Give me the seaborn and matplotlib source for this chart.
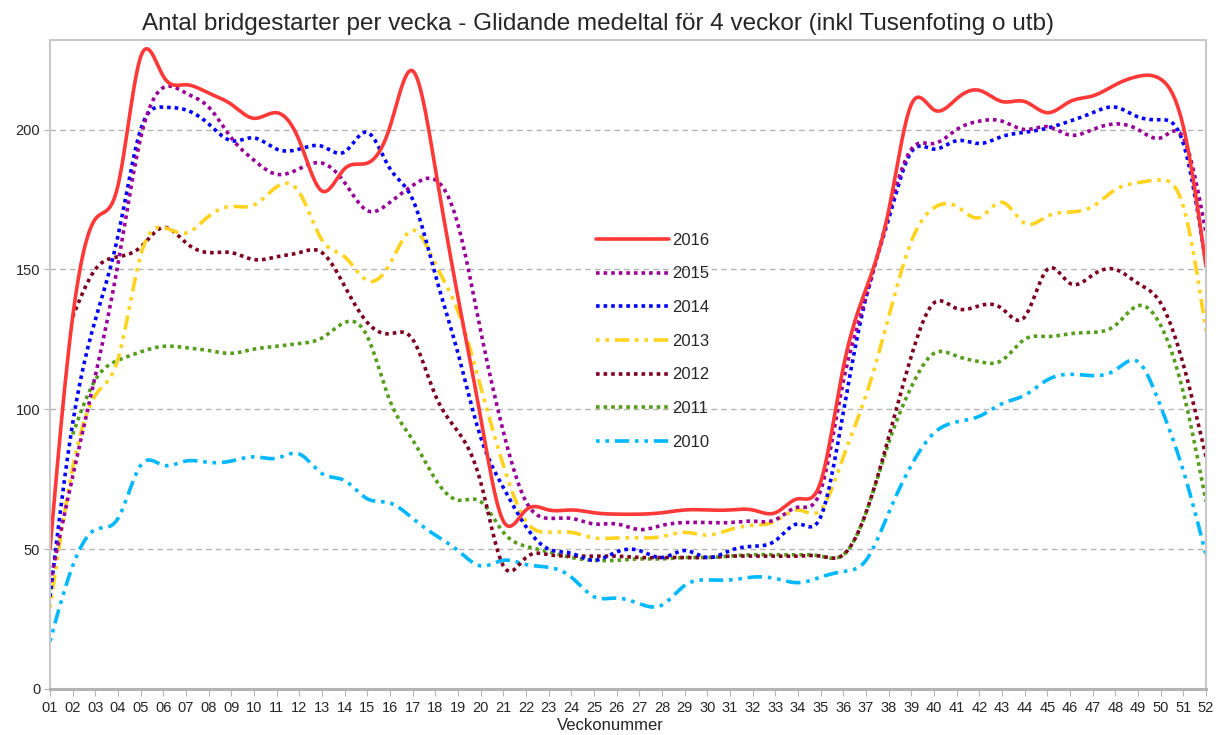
import numpy as np
import pandas as pd
import matplotlib
matplotlib.use("Agg")
import matplotlib.pyplot as plt
import seaborn as sns

# Weekly values, moving average of 4 weeks
weeks = list(range(1, 53))
week_labels = [f"{w:02d}" for w in weeks]

y2016 = [50, 133, 168, 180, 226, 219, 216, 213, 209, 204, 206, 196, 178, 186, 188, 201,
         221, 186, 140, 97, 60, 64, 64, 64, 63, 62.5, 62.5, 63, 64, 64, 64, 64,
         63, 68, 74, 115, 143, 171, 209, 207, 211, 214, 210, 210, 206, 210, 212, 216,
         219, 218, 201, 151]
y2015 = [38, 76, 112, 152, 197, 215, 213, 208, 197, 189, 184, 186, 188, 181, 171, 174,
         180, 182, 166, 128, 92, 67, 61, 61, 59, 59, 57, 58.5, 59.5, 59.5, 59.5, 60,
         60.5, 65, 71, 110, 140, 170, 193, 195, 200, 203, 203, 200, 201, 198, 200, 202,
         200, 197, 197, 163]
y2014 = [33, 95, 132, 162, 200, 208, 207, 202, 196, 197, 193, 193, 194, 192, 199, 186,
         175, 148, 120, 90, 72, 58, 50, 48.5, 46, 49, 49.5, 47, 49.5, 47, 49.5, 51,
         53, 59, 61.5, 99, 140, 168, 192, 193, 196, 195, 197.5, 199, 200.5, 203, 206, 208,
         204.5, 203.5, 195, 152]
y2013 = [29, 79, 105, 118, 155, 165, 163, 169, 172.5, 173, 179.5, 177.5, 160.5, 154.5, 146, 152,
         164, 152, 135, 108, 80, 60, 56, 56, 54, 54, 54, 54.5, 56, 55, 57, 58.5,
         60, 64, 64, 83, 105, 133, 160, 172, 172.5, 168.5, 174, 166.5, 169, 170.5, 172.5, 178.5,
         181, 182, 172.5, 128]
y2012 = [np.nan, 133, 150, 154.5, 158, 165, 159.5, 156, 156, 153.5, 154.5, 156, 156, 144, 131, 127,
         125, 105, 92, 74, 44, 47, 48, 47.5, 47.5, 47.5, 47, 47, 47, 47, 47.5, 47.5,
         47.5, 47.5, 47.5, 48, 63, 90, 119, 138, 136, 137, 136, 133, 150, 145, 148, 150,
         145, 138, 116, 83]
y2011 = [np.nan, 91, 110.5, 117.5, 120.5, 122.5, 122, 121, 120, 121.5, 122.5, 123.5, 125.5, 131, 126, 103,
         89, 75, 67.5, 67, 56, 51, 49, 47, 46, 46, 46.5, 46.5, 47, 47, 47.5, 48,
         48, 48, 47.5, 48, 63, 88, 108, 120, 119, 117, 117.5, 125, 126, 127, 127.5, 130,
         137, 130, 106, 67]
y2010 = [17, 44, 57, 61, 80, 80, 81.5, 81, 81.5, 83, 82.5, 84, 77, 74.5, 68, 66.5,
         61, 55, 49.5, 44, 46, 44.5, 43.5, 40, 33, 32.5, 30.5, 30, 37, 39, 39, 40,
         39.5, 38, 40, 42, 46, 63, 80, 91.5, 95.5, 97.5, 102, 105, 110.5, 112.5, 112, 114,
         117, 101, 78, 48]

series = {"2016": y2016, "2015": y2015, "2014": y2014, "2013": y2013,
          "2012": y2012, "2011": y2011, "2010": y2010}
years = list(series.keys())

colors = {"2016": "#ff3838", "2015": "#990099", "2014": "#0000ff", "2013": "#ffd320",
          "2012": "#7e0021", "2011": "#579d1c", "2010": "#00b8ff"}
dashes = {"2016": "", "2015": (1, 1.1), "2014": (1, 1.1), "2013": (1, 1.6, 1, 1.6, 4, 1.6),
          "2012": (1, 1.1), "2011": (1, 1.1), "2010": (1, 1.6, 1, 1.6, 4, 1.6)}


def smooth(x, y, n=12):
    # natural cubic spline through the points, like the "smooth line" option in the sheet program
    x = np.asarray(x, float)
    y = np.asarray(y, float)
    ok = ~np.isnan(y)
    x, y = x[ok], y[ok]
    m = len(x)
    h = np.diff(x)
    A = np.zeros((m, m))
    r = np.zeros(m)
    A[0, 0] = A[-1, -1] = 1
    for i in range(1, m - 1):
        A[i, i - 1] = h[i - 1]
        A[i, i] = 2 * (h[i - 1] + h[i])
        A[i, i + 1] = h[i]
        r[i] = 6 * ((y[i + 1] - y[i]) / h[i] - (y[i] - y[i - 1]) / h[i - 1])
    M = np.linalg.solve(A, r)
    xs, ys = [], []
    for i in range(m - 1):
        t = np.linspace(x[i], x[i + 1], n, endpoint=False)
        a = x[i + 1] - t
        b = t - x[i]
        s = (M[i] * a ** 3 + M[i + 1] * b ** 3) / (6 * h[i]) \
            + (y[i] / h[i] - M[i] * h[i] / 6) * a + (y[i + 1] / h[i] - M[i + 1] * h[i] / 6) * b
        xs.extend(t)
        ys.extend(s)
    xs.append(x[-1])
    ys.append(y[-1])
    return np.array(xs), np.array(ys)


rows = []
for yr in years:
    xs, ys = smooth(weeks, series[yr])
    rows.append(pd.DataFrame({"week": xs, "value": ys, "year": yr}))
df = pd.concat(rows, ignore_index=True)

sns.set_style("white")
plt.rcParams["font.family"] = ["Liberation Sans", "DejaVu Sans"]

fig = plt.figure(figsize=(12.16, 7.35), dpi=100)
ax = fig.add_axes([50 / 1216, 46 / 735, 1156 / 1216, 649 / 735])

# draw oldest first so 2016 ends up on top
sns.lineplot(data=df, x="week", y="value", hue="year", style="year",
             hue_order=years[::-1], style_order=years[::-1],
             palette=colors, dashes=dashes, linewidth=2.6, sort=False,
             estimator=None, ax=ax, legend=True)

ax.set_xlim(1, 52)
ax.set_ylim(0, 232)
ax.set_yticks([0, 50, 100, 150, 200])
ax.set_xticks(weeks)
ax.set_xticklabels(week_labels, family=["Liberation Sans Narrow", "Liberation Sans"], fontsize=10.5)
ax.tick_params(axis="y", labelsize=10.5, length=4, color="#b3b3b3", direction="out", pad=3, left=True)
ax.tick_params(axis="x", length=5, color="#b3b3b3", direction="out", pad=4, bottom=True)
for lab in ax.get_yticklabels():
    lab.set_family(["Liberation Sans", "DejaVu Sans"])

ax.grid(axis="y", color="#b3b3b3", linestyle=(0, (4, 3)), linewidth=1)
ax.set_axisbelow(True)
for side in ["left", "top", "right"]:
    ax.spines[side].set_color("#c8c8c8")
    ax.spines[side].set_linewidth(1.5)
ax.spines["bottom"].set_color("#b3b3b3")
ax.spines["bottom"].set_linewidth(2.2)

fig.text(598 / 1216, 1 - 24 / 735,
         "Antal bridgestarter per vecka - Glidande medeltal för 4 veckor (inkl Tusenfoting o utb)",
         fontsize=17.5, ha="center", va="center")
ax.set_xlabel("Veckonummer", family=["Liberation Sans Narrow", "Liberation Sans"], fontsize=12)
ax.xaxis.set_label_coords((610 - 50) / 1156, (689 - 718) / 649)
ax.set_ylabel("")

handles, labels = ax.get_legend_handles_labels()
order = {lab: h for h, lab in zip(handles, labels)}
ax.legend([order[y] for y in years], years, loc="upper left", bbox_to_anchor=(0.459, 0.726),
          frameon=False, fontsize=12, handlelength=4.4, handletextpad=0.2, labelspacing=1.12)

fig.savefig("out.png", dpi=100)
